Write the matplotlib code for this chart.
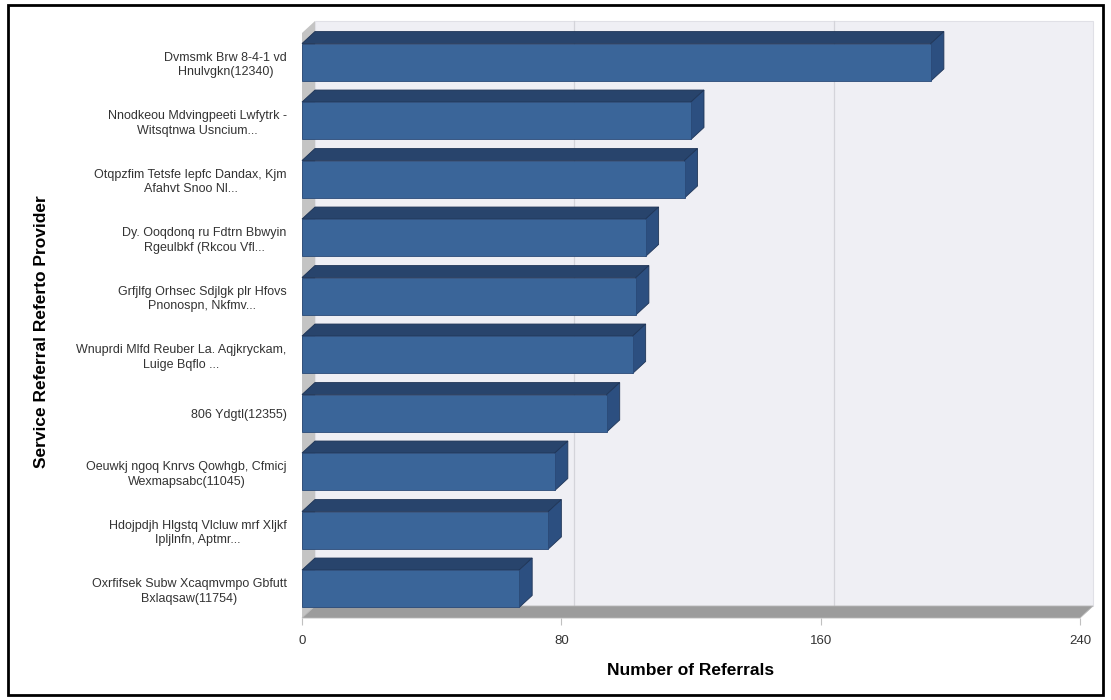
import matplotlib.pyplot as plt
from matplotlib.patches import Polygon, Rectangle
import numpy as np

plt.rcParams['font.family'] = ['Liberation Sans', 'DejaVu Sans']

# Datos del grafico
proveedores = [
    "Dvmsmk Brw 8-4-1 vd\nHnulvgkn(12340)",
    "Nnodkeou Mdvingpeeti Lwfytrk -\nWitsqtnwa Usncium...",
    "Otqpzfim Tetsfe Iepfc Dandax, Kjm\nAfahvt Snoo Nl...",
    "Dy. Ooqdonq ru Fdtrn Bbwyin\nRgeulbkf (Rkcou Vfl...",
    "Grfjlfg Orhsec Sdjlgk plr Hfovs\nPnonospn, Nkfmv...",
    "Wnuprdi Mlfd Reuber La. Aqjkryckam,\nLuige Bqflo ...",
    "806 Ydgtl(12355)",
    "Oeuwkj ngoq Knrvs Qowhgb, Cfmicj\nWexmapsabc(11045)",
    "Hdojpdjh Hlgstq Vlcluw mrf Xljkf\nIpljlnfn, Aptmr...",
    "Oxrfifsek Subw Xcaqmvmpo Gbfutt\nBxlaqsaw(11754)",
]
referencias = [194, 120, 118, 106, 103, 102, 94, 78, 76, 67]
ticks_x = [0, 80, 160, 240]

W, H = 1111, 700
fig = plt.figure(figsize=(W / 100, H / 100), dpi=100)

# plano frontal del grafico (en pixeles)
x0, x1 = 302, 1080
y_top, y_bot = 33, 618
ax = fig.add_axes([x0 / W, (H - y_bot) / H, (x1 - x0) / W, (y_bot - y_top) / H])
ax.set_facecolor('none')
n = len(proveedores)
ax.set_xlim(0, 240)
ax.set_ylim(n, 0)

# profundidad 3D en unidades de datos
dx = 13 * 240 / (x1 - x0)
dy = 12 * n / (y_bot - y_top)

# pared del fondo
ax.add_patch(Rectangle((dx, -dy), 240, n, facecolor='#efeff4', edgecolor='#e0e0e6',
                       lw=0.8, clip_on=False, zorder=1))
for g in ticks_x[1:-1]:
    ax.plot([g + dx, g + dx], [-dy, n - dy], color='#d4d4da', lw=0.9, clip_on=False, zorder=2)

# pared izquierda y piso
ax.add_patch(Polygon([(0, 0), (dx, -dy), (dx, n - dy), (0, n)], closed=True,
                     facecolor='#c4c4c4', edgecolor='none', clip_on=False, zorder=2))
ax.add_patch(Polygon([(0, n), (240, n), (240 + dx, n - dy), (dx, n - dy)], closed=True,
                     facecolor='#9c9c9c', edgecolor='#b8b8b8', lw=0.6, clip_on=False, zorder=2))

# barras con efecto 3D
h = 0.32
for i, v in enumerate(referencias):
    yc = i + 0.5
    t, b = yc - h, yc + h
    ax.add_patch(Polygon([(0, t), (dx, t - dy), (dx, b - dy), (0, b)], closed=True,
                         facecolor='#8e8e8e', edgecolor='none', clip_on=False, zorder=3))
    ax.add_patch(Polygon([(0, t), (v, t), (v + dx, t - dy), (dx, t - dy)], closed=True,
                         facecolor='#28446c', edgecolor='#1f3557', lw=0.6, clip_on=False, zorder=4))
    ax.add_patch(Polygon([(v, t), (v + dx, t - dy), (v + dx, b - dy), (v, b)], closed=True,
                         facecolor='#2c4f80', edgecolor='#1f3557', lw=0.6, clip_on=False, zorder=4))
    ax.add_patch(Rectangle((0, t), v, b - t, facecolor='#3a6599', edgecolor='#2a4a78',
                           lw=0.6, clip_on=False, zorder=5))

for s in ax.spines.values():
    s.set_visible(False)

ax.set_xticks(ticks_x)
ax.set_xticklabels([str(t) for t in ticks_x], fontsize=9.5, color='#333333')
ax.tick_params(axis='x', length=5, width=0.8, color='#c0c0c0', pad=7)
ax.set_yticks(np.arange(n) + 0.5)
ax.set_yticklabels(proveedores, fontsize=9, color='#333333', multialignment='center',
                   linespacing=1.3)
ax.tick_params(axis='y', length=0, pad=11)

ax.set_xlabel('Number of Referrals', fontsize=12.5, fontweight='bold', labelpad=12)
fig.text(42 / W, 1 - 332 / H, 'Service Referral Referto Provider', rotation=90,
         fontsize=12.5, fontweight='bold', ha='center', va='center')

# marco exterior
fig.add_artist(Rectangle((8 / W, 5 / H), 1095 / W, 690 / H, transform=fig.transFigure,
                         fill=False, edgecolor='black', lw=2))

plt.savefig('out.png', dpi=100)
